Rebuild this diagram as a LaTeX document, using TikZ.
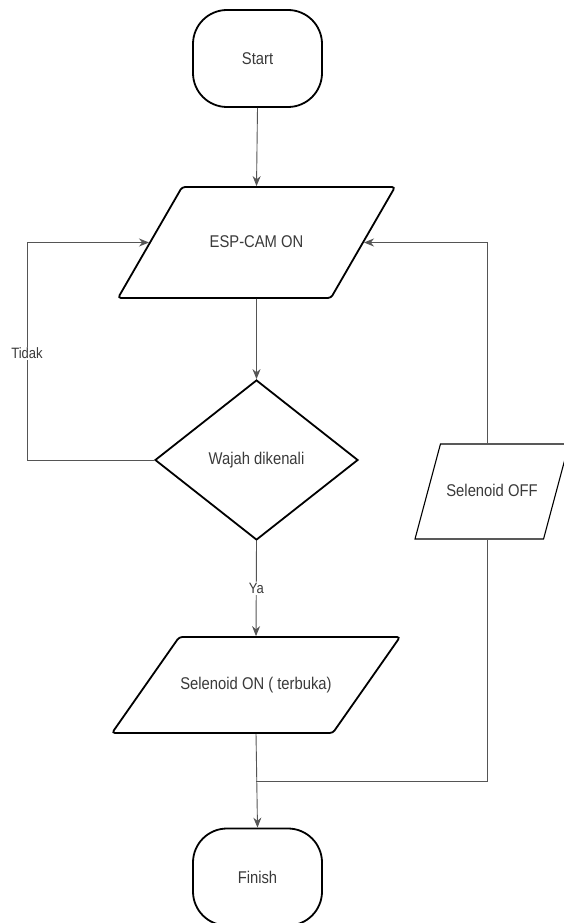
\documentclass[tikz,border=0pt]{standalone}
\usepackage{fontspec}
\setmainfont{Liberation Sans}[FakeStretch=0.87]
\usepackage{xcolor}
\definecolor{fctext}{RGB}{58,58,58}
\definecolor{fcline}{RGB}{85,85,85}
\usetikzlibrary{arrows.meta,positioning,shapes.geometric,calc}

\begin{document}
\begin{tikzpicture}[x=1pt, y=-1pt,
    terminal/.style={rectangle, rounded corners=34pt, minimum width=129pt, minimum height=97pt,
      draw=black, line width=1.8pt, text=fctext, font=\fontsize{17}{19}\selectfont},
    io/.style={trapezium, trapezium stretches body, rounded corners=3pt, inner xsep=0pt,
      text height=13pt, text depth=4pt,
      draw=black, line width=1.8pt, text=fctext, font=\fontsize{17}{19}\selectfont},
    decision/.style={diamond, aspect=1.27, inner sep=0pt, minimum width=203pt, minimum height=160pt,
      draw=black, line width=1.8pt, text=fctext, font=\fontsize{17}{19}\selectfont},
    lbl/.style={fill=white, inner sep=1pt, text=fctext, font=\fontsize{15}{17}\selectfont},
    arr/.style={-{Stealth[length=10pt, width=8pt]}, line width=0.9pt, draw=fcline},
    conn/.style={line width=0.9pt, draw=fcline}
  ]
    \path[fill=white, use as bounding box] (0,0) rectangle (563,923);
    % Flow nodes
    \node[terminal] (start) at (257.5, 58.5) {Start};
    \node[io, trapezium left angle=60, trapezium right angle=120, inner ysep=47pt,
      minimum width=277pt] (cam) at (256.5, 242.5) {ESP-CAM ON};
    \node[decision] (face) at (256.5, 460) {Wajah dikenali};
    \node[io, trapezium left angle=55, trapezium right angle=125, inner ysep=39.5pt,
      minimum width=288pt] (selon) at (256, 685) {Selenoid ON ( terbuka)};
    \node[terminal] (finish) at (257.5, 877) {Finish};
    \node[io, rounded corners=0pt, line width=1.1pt, trapezium left angle=75, trapezium right angle=105,
      inner ysep=39pt, minimum width=154pt] (seloff) at (492, 491.5) {Selenoid OFF};
    % Helper points
    \coordinate (lx) at (27, 460);
    \coordinate (rx) at (487, 781);
    \coordinate (join) at (selon.south |- rx);
    % Main arrows
    \draw[arr] (start.south) -- (cam.north);
    \draw[arr] (cam.south) -- (face.north);
    \draw[arr] (face.south) -- node[lbl, pos=0.5] {Ya} (selon.north);
    \draw[arr] (selon.south) -- (finish.north);
    % Loop back (Tidak)
    \draw[arr] (face.west) -- (lx) -- node[lbl, pos=0.49] {Tidak} (lx |- cam.west) -- (cam.west);
    % Loop back through Selenoid OFF
    \draw[conn] (join) -- (rx) -- (rx |- seloff.south);
    \draw[arr] (rx |- seloff.north) -- (rx |- cam.east) -- (cam.east);
  \end{tikzpicture}
\end{document}
